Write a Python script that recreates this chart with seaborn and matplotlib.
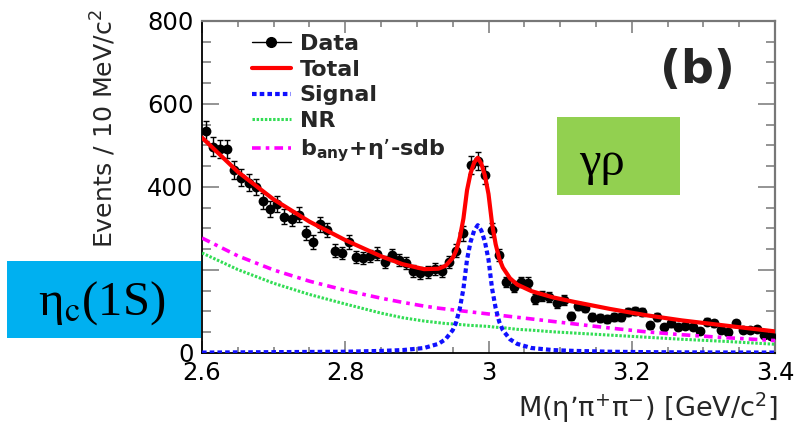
import numpy as np
import pandas as pd
import matplotlib
matplotlib.use("Agg")
import matplotlib.pyplot as plt
from matplotlib.lines import Line2D
from matplotlib.patches import Rectangle
from matplotlib.ticker import MultipleLocator, FuncFormatter
import seaborn as sns

# Histogram: events per 10 MeV/c^2 bin, starting at 2.60 GeV/c^2
bin_low = 2.60
bin_width = 0.01
counts = [
    535, 497, 491, 491, 441, 422, 410, 400, 366, 347,
    359, 328, 323, 333, 289, 267, 310, 296, 246, 241,
    267, 231, 229, 234, 239, 219, 236, 224, 217, 198,
    193, 195, 202, 198, 220, 246, 288, 453, 463, 429,
    296, 236, 171, 160, 171, 169, 130, 137, 135, 120,
    128, 89, 113, 108, 87, 84, 82, 87, 87, 99,
    101, 99, 67, 87, 63, 72, 63, 65, 63, 53,
    75, 72, 55, 51, 72, 55, 55, 58, 43, 41,
]

# Fit components sampled along the mass axis
fit_mass = [2.60, 2.65, 2.70, 2.75, 2.80, 2.85, 2.88, 2.91, 2.93, 2.94,
            2.95, 2.955, 2.96, 2.965, 2.97, 2.975, 2.98, 2.985, 2.99, 2.995,
            3.00, 3.005, 3.01, 3.015, 3.02, 3.03, 3.04, 3.06, 3.09, 3.12,
            3.17, 3.22, 3.27, 3.33, 3.40]
signal = [1, 1.5, 2, 2.5, 3, 5, 7, 12, 22, 33,
          55, 75, 108, 155, 225, 268, 295, 308, 295, 268,
          225, 155, 108, 75, 55, 33, 22, 12, 7, 5,
          3, 2, 1.5, 1.2, 1]
nonres = [241, 201, 168, 141, 118, 96, 85, 77, 73, 71,
          70, 69, 68.5, 68, 67, 66.5, 66, 65.5, 65, 64.5,
          64, 63, 62, 61.5, 61, 59, 57, 55, 51, 48,
          43, 38, 33, 28, 21]
bkg_sdb = [277, 234, 200, 173, 151, 132, 122, 113, 108, 106,
           104, 103, 102, 101, 100, 99, 98, 97, 96, 95,
           94, 93, 92, 91, 90, 88, 86, 82, 76, 70,
           60, 51, 44, 37, 30]

legend_labels = ["Data", "Total", "Signal", "NR", r"b$_{\mathbf{any}}$+η’-sdb"]
x_ticks = [2.6, 2.8, 3.0, 3.2, 3.4]

# ---------------------------------------------------------------------------
sns.set_theme(style="ticks")
plt.rcParams.update({
    "font.family": ["DejaVu Sans"],
    "mathtext.fontset": "dejavusans",
    "axes.facecolor": "white",
    "figure.facecolor": "white",
})

hist = pd.DataFrame({"mass": bin_low + bin_width * (np.arange(len(counts)) + 0.5),
                     "events": counts})
hist["err"] = np.sqrt(hist["events"])

fit = pd.DataFrame({"mass": fit_mass, "signal": signal, "nr": nonres, "bkg": bkg_sdb})
fit["total"] = fit["signal"] + fit["nr"] + fit["bkg"]

fig = plt.figure(figsize=(7.96, 4.24), dpi=100)
ax = fig.add_axes([0.2538, 0.1675, 0.7198, 0.783])

style_sig = dict(color="#1010ff", lw=3.0, ls=(0, (1.1, 0.75)))
style_nr = dict(color="#33dd55", lw=2.2, ls=(0, (0.8, 0.55)))
style_bkg = dict(color="#ff00ff", lw=2.6, ls=(0, (2.4, 1.4, 1.0, 1.4)))
style_tot = dict(color="#ff0000", lw=3.0, ls="-")

# Data points with Poisson error bars
ax.errorbar(hist["mass"], hist["events"], yerr=hist["err"], fmt="none",
            ecolor="black", elinewidth=1.0, capsize=2.4, capthick=1.0, zorder=3)
sns.scatterplot(data=hist, x="mass", y="events", color="black", s=50,
                edgecolor="black", linewidth=0, ax=ax, zorder=4, legend=False)

# Fit curves
for col, st, z in [("bkg", style_bkg, 5), ("nr", style_nr, 5),
                   ("signal", style_sig, 6), ("total", style_tot, 7)]:
    sns.lineplot(data=fit, x="mass", y=col, color=st["color"], lw=st["lw"],
                 ax=ax, zorder=z, legend=False)
    ln = ax.lines[-1]
    ln.set_linestyle(st["ls"])
    ln.set_dash_capstyle("butt")
    ln.set_solid_capstyle("round")

ax.set_xlim(2.6, 3.4)
ax.set_ylim(0, 800)
ax.set_xticks(x_ticks)
ax.xaxis.set_major_formatter(FuncFormatter(lambda v, p: f"{v:g}"))
ax.xaxis.set_minor_locator(MultipleLocator(0.05))
ax.yaxis.set_major_locator(MultipleLocator(200))
ax.yaxis.set_minor_locator(MultipleLocator(50))

ax.tick_params(which="both", direction="in", top=True, right=True,
               color="#777777", width=1.1, labelsize=17.5, pad=6,
               labelcolor="black")
ax.tick_params(axis="y", which="major", length=12)
ax.tick_params(axis="y", which="minor", length=6.5)
ax.tick_params(axis="x", which="major", length=8.5)
ax.tick_params(axis="x", which="minor", length=4.3)

for side in ("left", "bottom"):
    ax.spines[side].set_color("black")
    ax.spines[side].set_linewidth(1.3)
for side in ("top", "right"):
    ax.spines[side].set_color("#777777")
    ax.spines[side].set_linewidth(1.6)

ax.set_xlabel("M(η’π$^{+}$π$^{-}$) [GeV/c$^{2}$]", fontsize=19.5, loc="right")
ax.set_ylabel("Events / 10 MeV/c$^{2}$", fontsize=18.2, loc="top")
ax.xaxis.set_label_coords(1.005, -0.112)
ax.yaxis.set_label_coords(-0.146, 1.035)

handles = [
    Line2D([], [], color="black", marker="o", ms=7, lw=1.0),
    Line2D([], [], color=style_tot["color"], lw=style_tot["lw"]),
    Line2D([], [], color=style_sig["color"], lw=style_sig["lw"], ls=style_sig["ls"]),
    Line2D([], [], color=style_nr["color"], lw=style_nr["lw"], ls=style_nr["ls"]),
    Line2D([], [], color=style_bkg["color"], lw=style_bkg["lw"], ls=style_bkg["ls"]),
]
ax.legend(handles, legend_labels, loc="upper left", bbox_to_anchor=(0.087, 0.96),
          frameon=False, borderpad=0, borderaxespad=0, handlelength=1.75,
          handletextpad=0.4, labelspacing=0.25,
          prop={"weight": "bold", "size": 16})

ax.text(0.93, 0.85, "(b)", transform=ax.transAxes, ha="right", va="center",
        fontsize=33, fontweight="bold")

# Channel tags
fig.add_artist(Rectangle((0.0088, 0.2028), 0.2437, 0.1816, transform=fig.transFigure,
                         facecolor="#00b0f0", edgecolor="none", zorder=10))
fig.text(0.128, 0.285, "η$_{\\rm c}$(1S)", fontsize=35, family="Liberation Serif",
         math_fontfamily="stix", ha="center", va="center", color="black", zorder=11)
fig.add_artist(Rectangle((0.6997, 0.5401), 0.1545, 0.184, transform=fig.transFigure,
                         facecolor="#92d050", edgecolor="none", zorder=10))
fig.text(0.756, 0.615, "γρ", fontsize=35, family="Liberation Serif",
         ha="center", va="center", color="black", zorder=11)

fig.savefig("out.png", dpi=100)
